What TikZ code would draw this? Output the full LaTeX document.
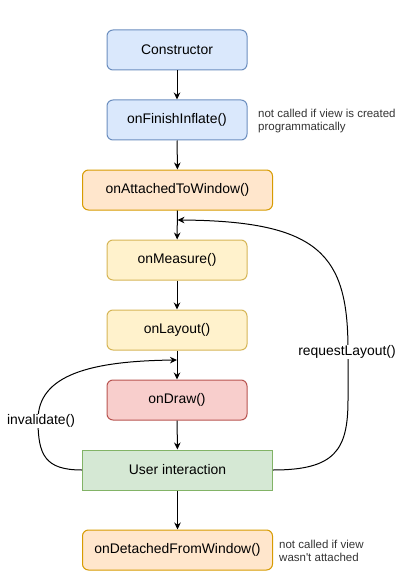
\documentclass[tikz,border=0pt]{standalone}
\usepackage{fontspec}
\setmainfont{Liberation Sans}
\usetikzlibrary{arrows.meta}
\definecolor{bluefill}{HTML}{DAE8FC}
\definecolor{bluedraw}{HTML}{6C8EBF}
\definecolor{orangefill}{HTML}{FFE6CC}
\definecolor{orangedraw}{HTML}{D79B00}
\definecolor{yellowfill}{HTML}{FFF2CC}
\definecolor{yellowdraw}{HTML}{D6B656}
\definecolor{redfill}{HTML}{F8CECC}
\definecolor{reddraw}{HTML}{B85450}
\definecolor{greenfill}{HTML}{D5E8D4}
\definecolor{greendraw}{HTML}{82B366}
\definecolor{notegray}{HTML}{333333}
\begin{document}
\begin{tikzpicture}[x=1pt, y=-1pt,
    every node/.style={font=\fontsize{13.9}{16}\selectfont},
    callbox/.style={draw, line width=1pt, rounded corners=6pt, minimum width=140pt, minimum height=40pt},
    widebox/.style={callbox, minimum width=190pt},
    blue box/.style={callbox, fill=bluefill, draw=bluedraw},
    orange box/.style={widebox, fill=orangefill, draw=orangedraw},
    yellow box/.style={callbox, fill=yellowfill, draw=yellowdraw},
    red box/.style={callbox, fill=redfill, draw=reddraw},
    notetext/.style={anchor=west, align=left, inner sep=0pt, text=notegray, font=\fontsize{11.5}{13.5}\selectfont},
    flow/.style={line width=1pt, -{Stealth[length=7pt, width=6.5pt]}},
    looplabel/.style={fill=white, inner sep=1pt}]
    \useasboundingbox (0,0) rectangle (406,588);

    % lifecycle steps
    \node[blue box] (ctor) at (177,50) {Constructor};
    \node[blue box] (inflate) at (177,120) {onFinishInflate()};
    \node[orange box] (attach) at (177.5,190) {onAttachedToWindow()};
    \node[yellow box] (measure) at (177,260) {onMeasure()};
    \node[yellow box] (layout) at (177,330) {onLayout()};
    \node[red box] (ondraw) at (177,400) {onDraw()};
    \node[widebox, rounded corners=0pt, fill=greenfill, draw=greendraw] (user) at (177.5,470) {User interaction};
    \node[orange box] (detach) at (177.5,550) {onDetachedFromWindow()};

    % side notes
    \node[notetext] (note1) at (258,121) {not called if view is created\\programmatically};
    \node[notetext] (note2) at (279,551) {not called if view\\wasn\textquotesingle t attached};

    \draw[flow] (ctor) -- (inflate);
    \draw[flow] (inflate) -- (attach);
    \draw[flow] (attach) -- (measure);
    \draw[flow] (measure) -- (layout);
    \draw[flow] (layout) -- (ondraw);
    \draw[flow] (ondraw) -- (user);
    \draw[flow] (user) -- (detach);

    % loops back
    \coordinate (remeasure) at (177.5,220);
    \coordinate (redraw) at (177,360);
    \draw[flow] (user.west) .. controls (45,470) and (38,455) .. (38,420)
        .. controls (38,375) and (90,361) .. (redraw);
    \node[looplabel] (inval) at (41,421) {invalidate()};
    \draw[flow] (user.east) .. controls (335,470) and (348,450) .. (348,400)
        -- (348,350) .. controls (348,255) and (320,221) .. (remeasure);
    \node[looplabel] (reqlayout) at (347,352) {requestLayout()};
\end{tikzpicture}
\end{document}
